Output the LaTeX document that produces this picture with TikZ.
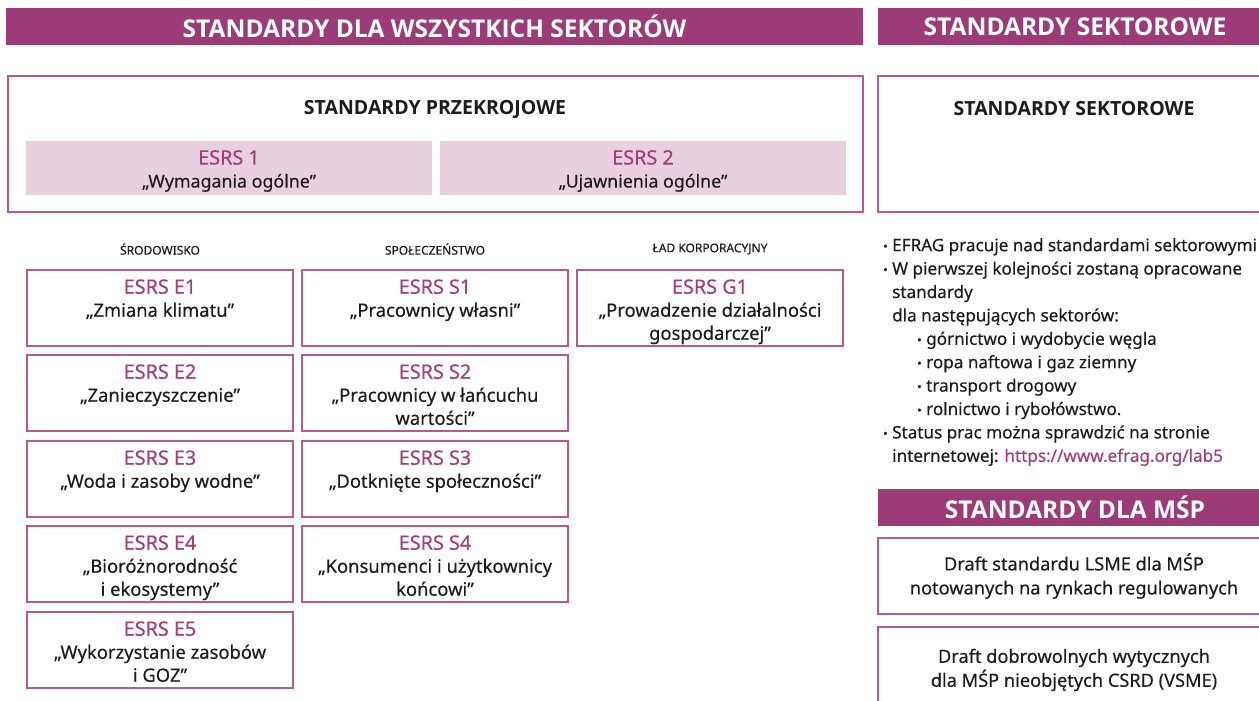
\documentclass[tikz,border=0pt]{standalone}
\usepackage{fontspec}
\setmainfont{Noto Sans}[FakeBold=0.25]
\newfontfamily\headfont{Open Sans}
\definecolor{bannerc}{HTML}{9B3B77}
\definecolor{framec}{HTML}{B85A92}
\definecolor{pinkc}{HTML}{E8D0DD}
\definecolor{esrsc}{HTML}{A33D7C}
\definecolor{inkc}{HTML}{1E1B1C}
\newcommand{\lbl}[1]{{\color{esrsc}\fontsize{19.8}{23}\selectfont#1}}
\newcommand{\bul}{\makebox[9pt][l]{\raisebox{0.6pt}{\fontsize{12}{12}\selectfont•}}}
\begin{document}
\begin{tikzpicture}[x=1pt,y=-1pt,
  bannerbox/.style={fill=bannerc, inner sep=0, minimum height=37pt},
  bannertext/.style={text=white, font=\headfont\fontsize{24.5}{27}\selectfont\bfseries, inner sep=0},
  framebox/.style={draw=framec, line width=1.6pt, fill=white, inner sep=0},
  pinkbox/.style={fill=pinkc, inner sep=0, minimum width=406pt, minimum height=54pt},
  pinktext/.style={align=center, text=inkc, inner sep=0, font=\fontsize{17.8}{23}\selectfont},
  esrsbox/.style={draw=framec, line width=1.6pt, inner sep=0, minimum width=266pt, minimum height=76pt},
  boxtext/.style={anchor=north, align=center, text=inkc, inner sep=0, font=\fontsize{18.4}{23}\selectfont},
  titletext/.style={text=inkc, inner sep=0, font=\headfont\fontsize{19.5}{22}\selectfont\bfseries},
  colhead/.style={text=inkc, inner sep=0, font=\fontsize{12}{14}\selectfont},
  bodytext/.style={text=inkc, inner sep=0, align=left, anchor=north west, font=\fontsize{17.1}{23.4}\selectfont},
  smetext/.style={text=inkc, inner sep=0, align=center, font=\fontsize{18.2}{24}\selectfont}
]
\clip (0,0) rectangle (1259,701);
\fill[white] (0,0) rectangle (1259,701);

% banners
\node[bannerbox, minimum width=857pt] (ban1) at (434.5,26.5) {};
\node[bannertext] (ban1t) at (ban1.center) {STANDARDY DLA WSZYSTKICH SEKTORÓW};
\node[bannerbox, minimum width=394pt] (ban2) at (1075,26.5) {};
\node[bannertext] (ban2t) at (ban2.center) {STANDARDY SEKTOROWE};

% przekrojowe
\node[framebox, minimum width=855pt, minimum height=136pt] (prz) at (435.5,144) {};
\node[titletext] (przt) at (435,109) {STANDARDY PRZEKROJOWE};
\node[pinkbox] (esrs1) at (229,168) {};
\node[pinktext] at ([yshift=-3pt]esrs1.center) {\lbl{ESRS 1}\\„Wymagania ogólne”};
\node[pinkbox] (esrs2) at (643,168) {};
\node[pinktext] at ([yshift=-3pt]esrs2.center) {\lbl{ESRS 2}\\„Ujawnienia ogólne”};

% sektorowe
\node[framebox, minimum width=392pt, minimum height=136pt] (sek) at (1074,144) {};
\node[titletext] (sekt) at (1074,109) {STANDARDY SEKTOROWE};

% column heads
\node[colhead] (hE) at (160,249) {ŚRODOWISKO};
\node[colhead] (hS) at (435,249) {SPOŁECZEŃSTWO};
\node[colhead] (hG) at (710,249) {ŁAD KORPORACYJNY};

% E column
\node[esrsbox] (e1) at (160,308) {};
\node[boxtext] at ([yshift=-10pt]e1.north) {\lbl{ESRS E1}\\„Zmiana klimatu”};
\node[esrsbox] (e2) at (160,393) {};
\node[boxtext] at ([yshift=-10pt]e2.north) {\lbl{ESRS E2}\\„Zanieczyszczenie”};
\node[esrsbox] (e3) at (160,479) {};
\node[boxtext] at ([yshift=-10pt]e3.north) {\lbl{ESRS E3}\\„Woda i zasoby wodne”};
\node[esrsbox] (e4) at (160,564) {};
\node[boxtext] at ([yshift=-10pt]e4.north) {\lbl{ESRS E4}\\„Bioróżnorodność\\i ekosystemy”};
\node[esrsbox] (e5) at (160,650) {};
\node[boxtext] at ([yshift=-10pt]e5.north) {\lbl{ESRS E5}\\„Wykorzystanie zasobów\\i GOZ”};

% S column
\node[esrsbox] (s1) at (435,308) {};
\node[boxtext] at ([yshift=-10pt]s1.north) {\lbl{ESRS S1}\\„Pracownicy własni”};
\node[esrsbox] (s2) at (435,393) {};
\node[boxtext] at ([yshift=-10pt]s2.north) {\lbl{ESRS S2}\\„Pracownicy w łańcuchu\\wartości”};
\node[esrsbox] (s3) at (435,479) {};
\node[boxtext] at ([yshift=-10pt]s3.north) {\lbl{ESRS S3}\\„Dotknięte społeczności”};
\node[esrsbox] (s4) at (435,564) {};
\node[boxtext] at ([yshift=-10pt]s4.north) {\lbl{ESRS S4}\\„Konsumenci i użytkownicy\\końcowi”};

% G column
\node[esrsbox] (g1) at (710,308) {};
\node[boxtext] at ([yshift=-10pt]g1.north) {\lbl{ESRS G1}\\„Prowadzenie działalności\\gospodarczej”};

% bullets
\node[bodytext] (bl) at (883,238) {%
\bul EFRAG pracuje nad standardami sektorowymi\\
\bul W pierwszej kolejności zostaną opracowane\\
\hspace*{9pt}standardy\\
\hspace*{9pt}dla następujących sektorów:\\
\hspace*{34pt}\bul górnictwo i wydobycie węgla\\
\hspace*{34pt}\bul ropa naftowa i gaz ziemny\\
\hspace*{34pt}\bul transport drogowy\\
\hspace*{34pt}\bul rolnictwo i rybołówstwo.\\
\bul Status prac można sprawdzić na stronie\\
\hspace*{9pt}internetowej: {\color{esrsc}https://www.efrag.org/lab5}};

% MSP
\node[bannerbox, minimum width=394pt] (ban3) at (1075,507.5) {};
\node[bannertext] (ban3t) at (ban3.center) {STANDARDY DLA MŚP};
\node[framebox, minimum width=392pt, minimum height=76pt] (lsme) at (1074,576) {};
\node[smetext] at (lsme.center) {Draft standardu LSME dla MŚP\\notowanych na rynkach regulowanych};
\node[framebox, minimum width=392pt, minimum height=80pt] (vsme) at (1074,667) {};
\node[smetext] at (1074,670) {Draft dobrowolnych wytycznych\\dla MŚP nieobjętych CSRD (VSME)};
\end{tikzpicture}
\end{document}
